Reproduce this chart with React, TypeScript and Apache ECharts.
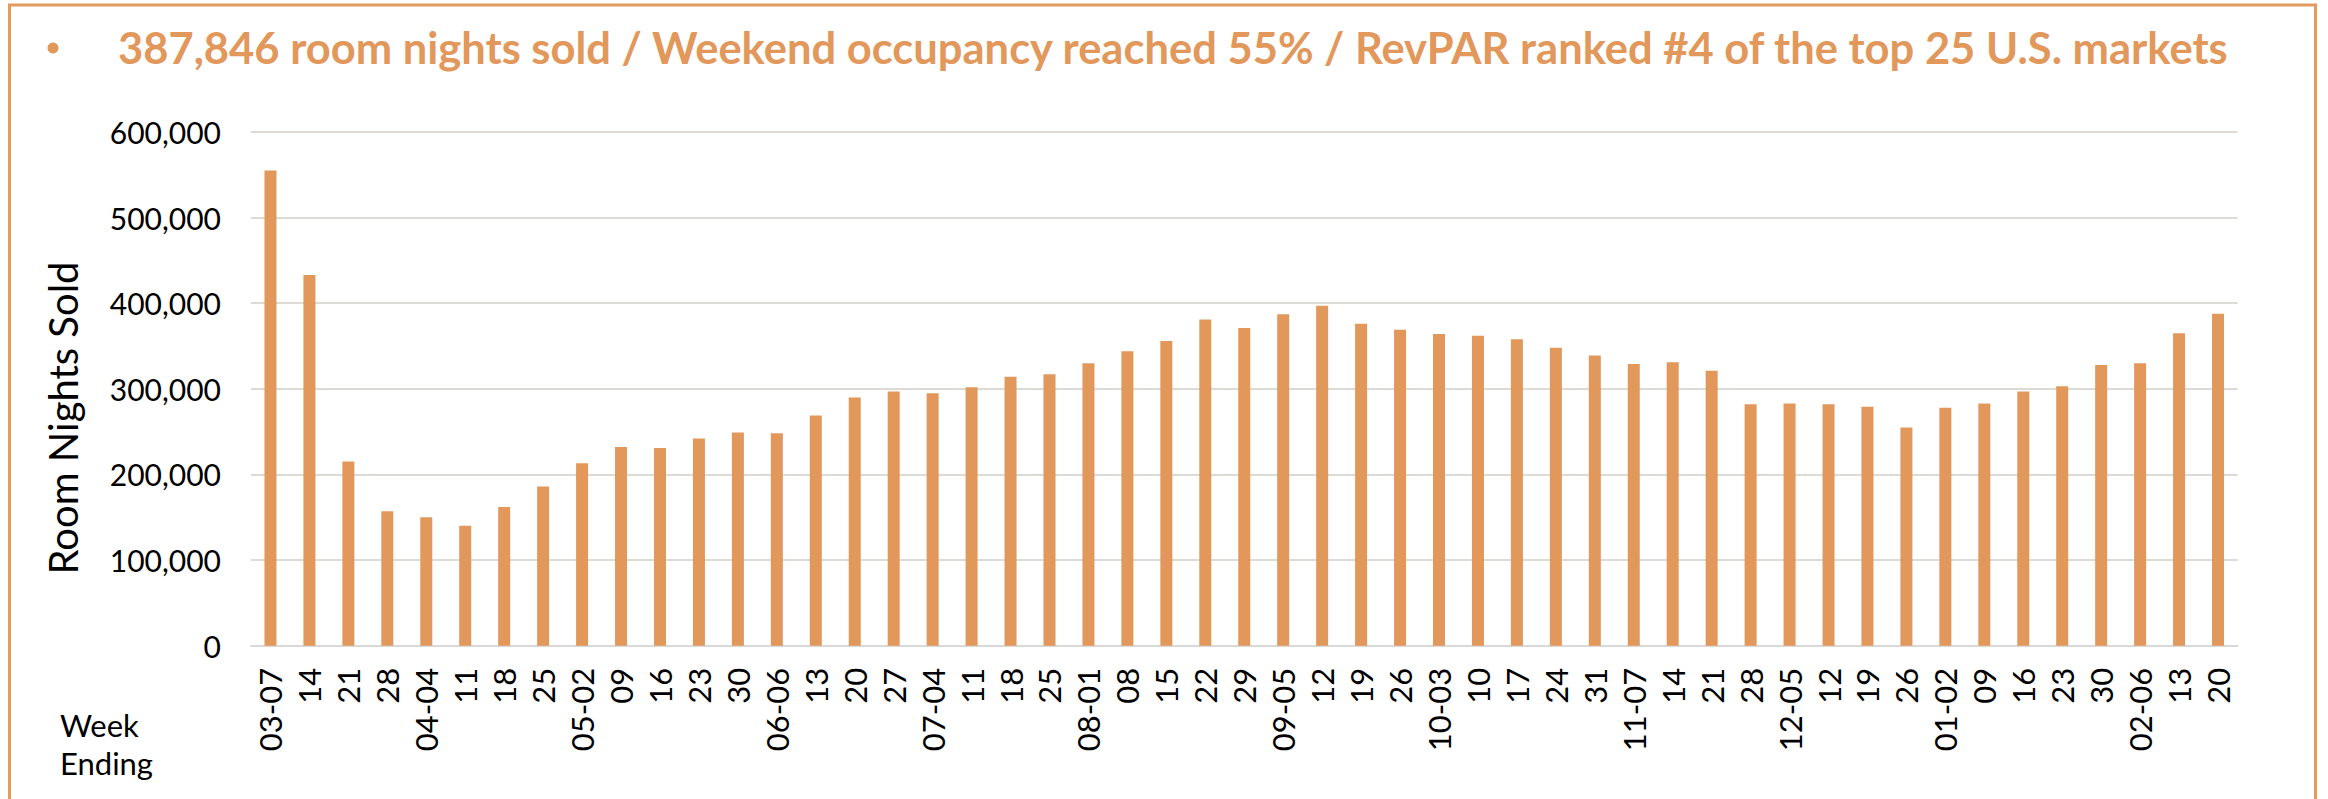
import React, { useEffect, useRef } from "react";
import * as echarts from "echarts";

const weekLabels: string[] = [
  "03-07", "14", "21", "28",
  "04-04", "11", "18", "25",
  "05-02", "09", "16", "23", "30",
  "06-06", "13", "20", "27",
  "07-04", "11", "18", "25",
  "08-01", "08", "15", "22", "29",
  "09-05", "12", "19", "26",
  "10-03", "10", "17", "24", "31",
  "11-07", "14", "21", "28",
  "12-05", "12", "19", "26",
  "01-02", "09", "16", "23", "30",
  "02-06", "13", "20",
];

const roomNightsSold: number[] = [
  555000, 433000, 215000, 157000,
  150000, 140000, 162000, 186000,
  213000, 232000, 231000, 242000, 249000,
  248000, 269000, 290000, 297000,
  295000, 302000, 314000, 317000,
  330000, 344000, 356000, 381000, 371000,
  387000, 397000, 376000, 369000,
  364000, 362000, 358000, 348000, 339000,
  329000, 331000, 321000, 282000,
  283000, 282000, 279000, 255000,
  278000, 283000, 297000, 303000, 328000,
  330000, 365000, 387846,
];

const yTicks = { min: 0, max: 600000, interval: 100000 };

const titleText =
  "387,846 room nights sold / Weekend occupancy reached 55% / RevPAR ranked #4 of the top 25 U.S. markets";
const yAxisTitle = "Room Nights Sold";
const xAxisTitleLines = ["Week", "Ending"];

const ORANGE = "#E2975B";
const FONT = "Lato";

export default function App() {
  const ref = useRef<HTMLDivElement>(null);

  useEffect(() => {
    if (!ref.current) return;
    const chart = echarts.init(ref.current, null, { renderer: "svg" });
    chart.setOption({
      animation: false,
      backgroundColor: "#ffffff",
      grid: { left: 251, right: 90.5, top: 132, bottom: 153.3, containLabel: false },
      xAxis: {
        type: "category",
        data: weekLabels,
        axisTick: { show: false },
        axisLine: { show: true, lineStyle: { color: "#D9D9D9", width: 2 } },
        axisLabel: {
          interval: 0,
          rotate: 90,
          margin: 22,
          fontSize: 31,
          fontFamily: FONT,
          color: "#000000",
        },
      },
      yAxis: {
        type: "value",
        min: yTicks.min,
        max: yTicks.max,
        interval: yTicks.interval,
        axisLine: { show: false },
        axisTick: { show: false },
        axisLabel: {
          margin: 30,
          fontSize: 30,
          fontFamily: FONT,
          color: "#000000",
          formatter: (v: number) => v.toLocaleString("en-US"),
        },
        splitLine: { show: true, lineStyle: { color: "#DEDAD6", width: 2 } },
      },
      series: [
        {
          type: "bar",
          data: roomNightsSold,
          barWidth: 12,
          itemStyle: { color: ORANGE },
        },
      ],
      graphic: [
        {
          type: "rect",
          shape: { x: 9.5, y: 5, width: 2306, height: 900 },
          style: { fill: "none", stroke: "#E39A5E", lineWidth: 3 },
          silent: true,
        },
        {
          type: "circle",
          shape: { cx: 53, cy: 48, r: 5.5 },
          style: { fill: ORANGE },
        },
        {
          type: "text",
          x: 118,
          y: 47,
          style: {
            text: titleText,
            fontFamily: FONT,
            fontWeight: "bold",
            fontSize: 43.5,
            fill: ORANGE,
            align: "left",
            verticalAlign: "middle",
          },
        },
        {
          type: "text",
          x: 63,
          y: 418,
          rotation: Math.PI / 2,
          style: {
            text: yAxisTitle,
            fontFamily: FONT,
            fontSize: 40,
            fill: "#000000",
            align: "center",
            verticalAlign: "middle",
          },
        },
        {
          type: "text",
          x: 60,
          y: 725,
          style: {
            text: xAxisTitleLines[0],
            fontFamily: FONT,
            fontSize: 31,
            fill: "#000000",
            align: "left",
            verticalAlign: "middle",
          },
        },
        {
          type: "text",
          x: 60,
          y: 763,
          style: {
            text: xAxisTitleLines[1],
            fontFamily: FONT,
            fontSize: 31,
            fill: "#000000",
            align: "left",
            verticalAlign: "middle",
          },
        },
      ],
    });
    return () => chart.dispose();
  }, []);

  return (
    <div
      ref={ref}
      style={{ position: "fixed", left: 0, top: 0, width: 2328, height: 799 }}
    />
  );
}
